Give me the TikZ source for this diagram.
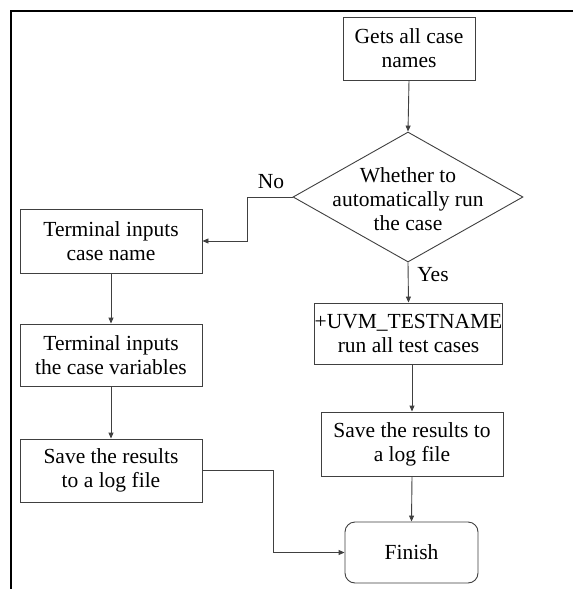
\documentclass[tikz,border=0pt]{standalone}
\usepackage{fontspec}
\setmainfont{Liberation Serif}
\usetikzlibrary{shapes.geometric,arrows.meta}
\begin{document}
\begin{tikzpicture}[x=1pt,y=-1pt,
  every node/.style={font=\fontsize{21.5}{24}\selectfont, text=black},
  box/.style={draw=black!75, line width=0.9pt, rectangle, align=center, inner sep=0pt},
  dia/.style={draw=black!75, line width=0.9pt, diamond, inner sep=0pt},
  conn/.style={draw=black!75, line width=0.9pt, -{Triangle[length=6pt,width=5pt]}},
  frame/.style={draw=black, line width=2.4pt}
]
\useasboundingbox (0,0) rectangle (573,589);
\fill[white] (0,0) rectangle (573,589);
\draw[frame] (11,589) -- (11,11) -- (573,11);

\node[box, minimum width=132pt, minimum height=63pt] (gets) at (409,48.5) {Gets all case\\names};
\node[dia, minimum width=230pt, minimum height=130pt] (dec) at (408,197) {};
\node[align=center, inner sep=0pt] (dectext) at (408,199) {Whether to\\automatically run\\the case};
\node[box, minimum width=182pt, minimum height=64pt] (t1) at (111,241) {Terminal inputs\\case name};
\node[box, minimum width=182pt, minimum height=62pt] (t2) at (111,355) {Terminal inputs\\the case variables};
\node[box, minimum width=182pt, minimum height=63pt] (s1) at (111,470.5) {Save the results\\to a log file};
\node[box, minimum width=183pt, minimum height=61pt] (uvm) at (408.5,333.5) {+UVM\_TESTNAME\\run all test cases};
\node[box, minimum width=182pt, minimum height=64pt] (s2) at (412,444) {Save the results to\\a log file};
\node[box, rounded corners=10pt, minimum width=133pt, minimum height=61pt] (fin) at (411.5,552.5) {Finish};

\coordinate (nobend) at (247,197);
\coordinate (s1bend) at (273,470.5);

\draw[conn] (gets.south) -- (dec.north);
\draw[conn] (dec.west) -- (nobend) |- (t1.east);
\draw[conn] (dec.south) -- (uvm.north);
\draw[conn] (t1.south) -- (t2.north);
\draw[conn] (t2.south) -- (s1.north);
\draw[conn] (s2.north |- uvm.south) -- (s2.north);
\draw[conn] (s2.south) -- (fin.north);
\draw[conn] (s1.east) -- (s1bend) |- (fin.west);

\node[inner sep=0pt] (nolbl) at (271,182) {No};
\node[inner sep=0pt] (yeslbl) at (433,275) {Yes};
\end{tikzpicture}
\end{document}
